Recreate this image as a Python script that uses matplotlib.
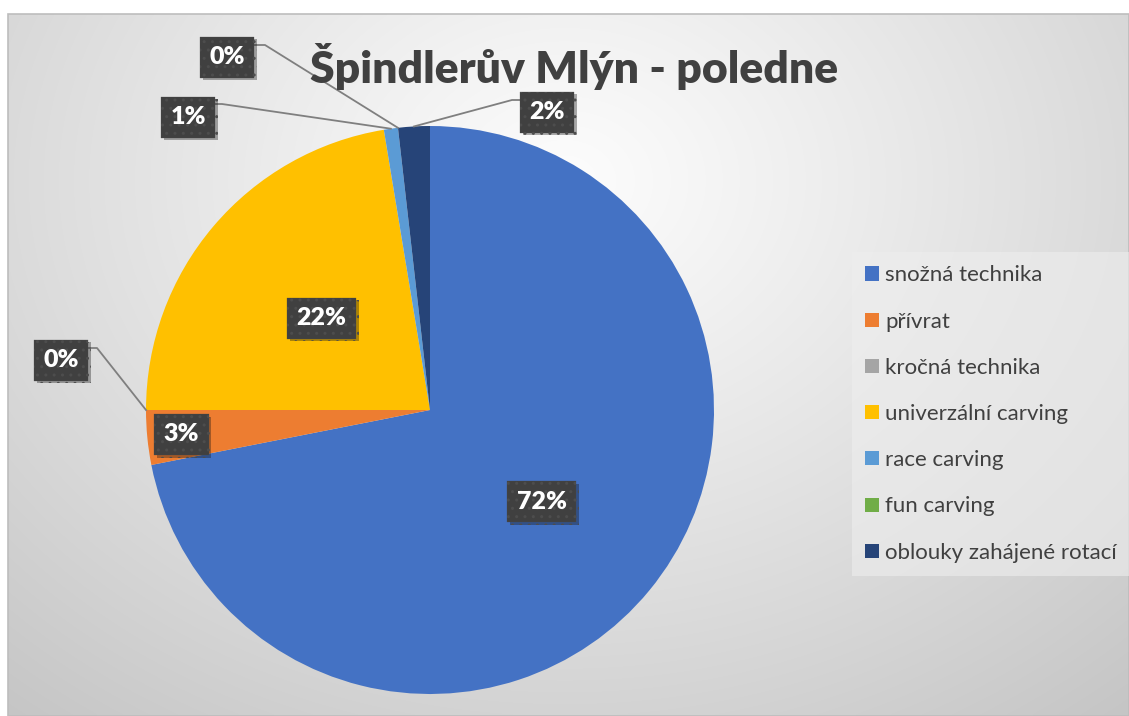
import numpy as np
import matplotlib
matplotlib.use("Agg")
import matplotlib.pyplot as plt
from matplotlib.patches import Patch, Rectangle
import matplotlib.patheffects as pe

plt.rcParams['font.family'] = ['Lato', 'DejaVu Sans']

# data
categories = ["snožná technika", "přívrat", "kročná technika", "univerzální carving",
              "race carving", "fun carving", "oblouky zahájené rotací"]
values = [71.9, 3.1, 0.0, 22.4, 0.8, 0.0, 1.8]
colors = ["#4472C4", "#ED7D31", "#A5A5A5", "#FFC000", "#5B9BD5", "#70AD47", "#264478"]
title = "Špindlerův Mlýn - poledne"

W, H = 1129, 716
CX, CY, R = 430, 410, 284


def P(x, y):
    # pixel position -> data coords (pie centre at 0,0, radius 1)
    return (x - CX) / R, (CY - y) / R


fig = plt.figure(figsize=(W / 100, H / 100), dpi=100)
fig.patch.set_facecolor("white")
ax = fig.add_axes([0, 0, 1, 1])

# chart area with radial gradient
x0, y0 = P(8, H)
x1, y1 = P(W, 14)
gx, gy = np.meshgrid(np.linspace(8, W, 300), np.linspace(14, H, 200))
d = np.sqrt(((gx - 565) / 700) ** 2 + ((gy - 180) / 560) ** 2)
g = np.clip(0.99 - 0.17 * d ** 1.1, 0, 1)
ax.imshow(np.dstack([g, g, g]), extent=(x0, x1, y0, y1), origin="upper",
          zorder=0, aspect="auto", interpolation="bilinear")
ax.add_patch(Rectangle((x0, y0), x1 - x0, y1 - y0, fill=False, ec="#bdbdbd", lw=1.2, zorder=1))

wedges, _ = ax.pie(values, colors=colors, startangle=90, counterclock=False,
                   radius=1, center=(0, 0), wedgeprops=dict(linewidth=0), frame=True)
ax.set_xlim(P(0, 0)[0], P(W, 0)[0])
ax.set_ylim(P(0, H)[1], P(0, 0)[1])
ax.set_aspect("equal")
ax.axis("off")
for w in wedges:
    w.set_zorder(2)

total = sum(values)
labels = [f"{v / total * 100:.0f}%" for v in values]

# label layout: inside -> radius fraction, outside -> (box centre px, elbow px, box edge px)
inside = {0: 0.51, 1: 0.88, 3: 0.5}
outside = {
    2: ((61, 360), (97, 348), (86, 348)),
    5: ((227, 57), (265, 45), (253, 45)),
    4: ((188, 117), (222, 104), (212, 104)),
    6: ((547, 112), (512, 100), (522, 100)),
}

box = dict(boxstyle="square,pad=0.38", fc="#404040", ec="#4d4d4d", lw=0.2, hatch="..")


def place(xy, txt):
    t = ax.text(xy[0], xy[1], txt, ha="center", va="center", color="white",
                fontsize=18, fontweight="heavy", bbox=box, zorder=5)
    t.get_bbox_patch().set_path_effects([pe.SimplePatchShadow(offset=(2, -2), alpha=0.35),
                                         pe.Normal()])


for i, w in enumerate(wedges):
    mid = np.deg2rad((w.theta1 + w.theta2) / 2)
    if i in inside:
        f = inside[i]
        place((f * np.cos(mid), f * np.sin(mid)), labels[i])
    else:
        c, elbow, edge = outside[i]
        ex, ey = P(*elbow)
        bx, by = P(*edge)
        ax.plot([np.cos(mid), ex, bx], [np.sin(mid), ey, by], color="#7f7f7f", lw=1.3, zorder=3)
        place(P(*c), labels[i])

fig.text(574 / W, 1 - 66 / H, title, ha="center", va="center", fontsize=32,
         fontweight="heavy", color="#404040")

handles = [Patch(facecolor=c, edgecolor="none") for c in colors]
leg = fig.legend(handles, categories, loc="upper left",
                 bbox_to_anchor=(852 / W, 1 - 252 / H), fontsize=16,
                 labelspacing=1.18, handlelength=0.6, handleheight=0.6,
                 handletextpad=0.3, borderpad=0.6, borderaxespad=0,
                 frameon=True, fancybox=False)
leg.get_frame().set_facecolor("#eeeeee")
leg.get_frame().set_alpha(0.6)
leg.get_frame().set_edgecolor("none")
for t in leg.get_texts():
    t.set_color("#404040")

fig.savefig("out.png", dpi=100, facecolor=fig.get_facecolor())
